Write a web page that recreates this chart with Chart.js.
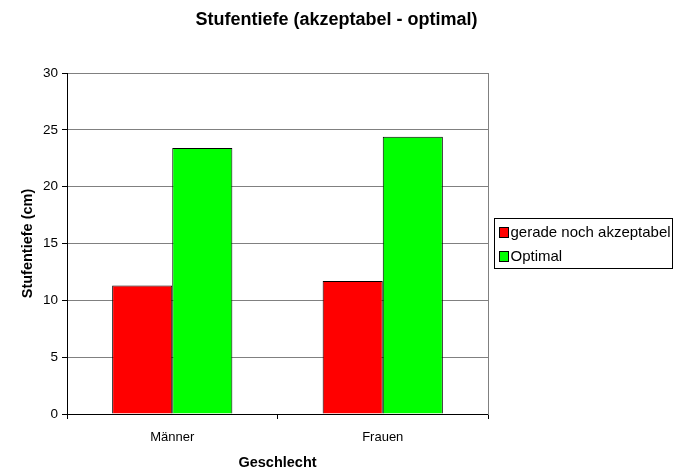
<!DOCTYPE html>
<html>
<head>
<meta charset="utf-8">
<script src="https://cdn.jsdelivr.net/npm/chart.js@4.4.1/dist/chart.umd.min.js"></script>
<style>
  html, body { margin: 0; padding: 0; background: #fff; }
  canvas { display: block; }
</style>
</head>
<body>
<canvas id="chart" width="673" height="472"></canvas>
<script>
const categories = ['Männer', 'Frauen'];
const akzeptabel = [11.3, 11.7];
const optimal = [23.4, 24.4];
const seriesNames = ['gerade noch akzeptabel', 'Optimal'];
const seriesColors = ['#FF0000', '#00FF00'];

Chart.defaults.font.family = '"Liberation Sans", Arial, sans-serif';
Chart.defaults.color = '#000';

// legend with a thin black frame, drawn right of the plot
const boxedLegend = {
    id: 'boxedLegend',
    afterDraw(chart) {
        const ctx = chart.ctx;
        const left = chart.chartArea.right + 6.5;
        const top = 218.5;
        const w = 178, h = 50;
        ctx.save();
        ctx.fillStyle = '#fff';
        ctx.fillRect(left, top, w, h);
        ctx.strokeStyle = '#000';
        ctx.lineWidth = 1;
        ctx.strokeRect(left, top, w, h);
        ctx.font = '15px "Liberation Sans", Arial, sans-serif';
        ctx.textBaseline = 'middle';
        chart.data.datasets.forEach((ds, i) => {
            const cy = top + 14 + i * 24;
            ctx.fillStyle = ds.backgroundColor;
            ctx.fillRect(left + 5, cy - 5, 9, 10);
            ctx.strokeRect(left + 5, cy - 5, 9, 10);
            ctx.fillStyle = '#000';
            ctx.fillText(ds.label, left + 16, cy);
        });
        ctx.restore();
    }
};

new Chart(document.getElementById('chart').getContext('2d'), {
    type: 'bar',
    data: {
        labels: categories,
        datasets: [
            {
                label: seriesNames[0],
                data: akzeptabel,
                backgroundColor: seriesColors[0],
                borderColor: '#000',
                borderWidth: 1,
                categoryPercentage: 0.571,
                barPercentage: 1
            },
            {
                label: seriesNames[1],
                data: optimal,
                backgroundColor: seriesColors[1],
                borderColor: '#000',
                borderWidth: 1,
                categoryPercentage: 0.571,
                barPercentage: 1
            }
        ]
    },
    options: {
        responsive: false,
        animation: false,
        layout: { padding: 0 },
        plugins: {
            legend: { display: false },
            tooltip: { enabled: false },
            title: {
                display: true,
                text: 'Stufentiefe (akzeptabel - optimal)',
                font: { size: 18, weight: 'bold' },
                color: '#000',
                padding: { top: 9.5, bottom: 41.9 }
            }
        },
        scales: {
            x: {
                grid: {
                    offset: true,
                    drawOnChartArea: false,
                    drawTicks: true,
                    tickLength: 5,
                    color: '#000'
                },
                border: { display: true, color: '#000' },
                ticks: { font: { size: 13 }, padding: 11, color: '#000' },
                title: {
                    display: true,
                    text: 'Geschlecht',
                    font: { size: 14.5, weight: 'bold' },
                    color: '#000',
                    padding: { top: 0, bottom: 0 }
                },
                afterFit(scale) { scale.height = 58; }
            },
            y: {
                min: 0,
                max: 30,
                ticks: { stepSize: 5, font: { size: 13.5 }, padding: 4, color: '#000' },
                grid: { color: '#808080', tickColor: '#000', tickLength: 5 },
                border: { display: true, color: '#000' },
                title: {
                    display: true,
                    text: 'Stufentiefe (cm)',
                    font: { size: 14.5, weight: 'bold' },
                    color: '#000',
                    padding: { top: 19, bottom: 0 }
                },
                afterFit(scale) { scale.width = 67; }
            },
            frame: {
                type: 'linear',
                position: 'right',
                ticks: { display: false },
                grid: { display: false, drawTicks: false },
                border: { display: true, color: '#808080' },
                afterFit(scale) { scale.width = 185; }
            }
        }
    },
    plugins: [boxedLegend]
});
</script>
</body>
</html>
